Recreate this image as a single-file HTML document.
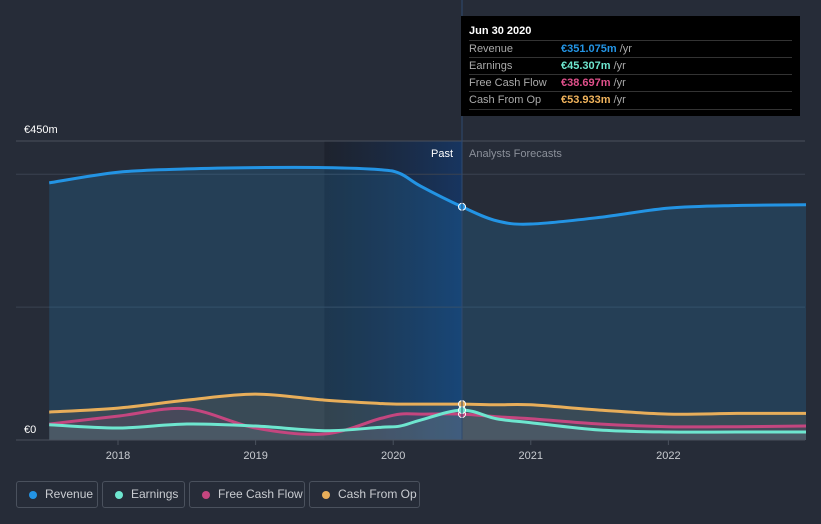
<!DOCTYPE html>
<html><head><meta charset="utf-8"><style>
body{margin:0;background:#262c38;font-family:"Liberation Sans",sans-serif;}
#wrap{position:relative;width:821px;height:524px;overflow:hidden;background:#262c38;}
.leg{position:absolute;top:481px;border:1px solid #4a515d;border-radius:3px;color:#c9ccd1;font-size:12px;line-height:25px;box-sizing:border-box;height:27px;}
.leg i{position:absolute;left:12px;top:9px;width:8px;height:8px;border-radius:50%;}
.leg span{position:absolute;left:28px;}
#tip{position:absolute;left:461px;top:16px;width:339px;height:100px;background:#000;color:#fff;font-size:11px;}
.row{position:absolute;left:8px;width:323px;height:17px;border-top:1px solid #333;}
.row .l{position:absolute;left:0;top:2px;color:#aaa;}
.row .v{position:absolute;left:92px;top:2px;font-weight:bold;}
.row .u{color:#aaa;font-weight:normal;}
</style></head><body>
<div id="wrap">
<svg id="svg" width="821" height="524" style="position:absolute;left:0;top:0"></svg>
<div id="tip">
<div style="position:absolute;left:8px;top:9px;font-weight:bold;font-size:11px">Jun 30 2020</div>
<div class="row" style="top:24px"><span class="l">Revenue</span><span class="v" style="color:#2394e4">€351.075m <span class="u">/yr</span></span></div>
<div class="row" style="top:41px"><span class="l">Earnings</span><span class="v" style="color:#6ee6cf">€45.307m <span class="u">/yr</span></span></div>
<div class="row" style="top:58px"><span class="l">Free Cash Flow</span><span class="v" style="color:#e0508b">€38.697m <span class="u">/yr</span></span></div>
<div class="row" style="top:75px;border-bottom:1px solid #333"><span class="l">Cash From Op</span><span class="v" style="color:#f0b35c">€53.933m <span class="u">/yr</span></span></div>
</div>
<div class="leg" style="left:16px;width:82px"><i style="background:#2394e4"></i><span>Revenue</span></div>
<div class="leg" style="left:102px;width:83px"><i style="background:#6ee6cf"></i><span>Earnings</span></div>
<div class="leg" style="left:189px;width:116px"><i style="background:#c4467f"></i><span>Free Cash Flow</span></div>
<div class="leg" style="left:309px;width:111px"><i style="background:#e8ae5a"></i><span>Cash From Op</span></div>
</div>
<script>
const years=[2017.5,2018,2018.5,2019,2019.5,2019.9,2020.05,2020.2,2020.5,2020.75,2021,2021.5,2022,2022.5,2023];
const revenue=[387,403,408,410,410,407,401,382,351,330,325,335,349,353,354];
const cashFromOp=[42,48,60,69,60,55,54,54,54,53,53,45,39,40,40];
const fcf=[24,36,47,18,9,32,39,39,39,35,32,24,20,20,21];
const earnings=[23,18,24,21,14,19,21,30,45,32,26,15,12,12,12];
const xTicks=[2018,2019,2020,2021,2022];
const svgEl=document.getElementById('svg');
const NS='http://www.w3.org/2000/svg';
const X=t=>118+(t-2018)*137.6;
const Y=v=>440-v*299/450;
function el(tag,attrs){const e=document.createElementNS(NS,tag);for(const k in attrs)e.setAttribute(k,attrs[k]);svgEl.appendChild(e);return e;}
function smooth(pts){let d='M'+pts[0][0]+','+pts[0][1];for(let i=1;i<pts.length;i++){const p0=pts[i-2]||pts[i-1],p1=pts[i-1],p2=pts[i],p3=pts[i+1]||p2;const c1x=p1[0]+(p2[0]-p0[0])/6,c1y=p1[1]+(p2[1]-p0[1])/6,c2x=p2[0]-(p3[0]-p1[0])/6,c2y=p2[1]-(p3[1]-p1[1])/6;d+=`C${c1x},${c1y},${c2x},${c2y},${p2[0]},${p2[1]}`;}return d;}
const defs=el('defs',{});
defs.innerHTML='<linearGradient id="pg" x1="0" x2="1"><stop offset="0" stop-color="#1a1f2a" stop-opacity="0.7"/><stop offset="1" stop-color="#173560"/></linearGradient>';
const pastRect=el('rect',{x:X(2019.5),y:141,width:X(2020.5)-X(2019.5),height:299,fill:'url(#pg)'});


[200,400].forEach(g=>{const l=el('line',{x1:16,x2:805,y1:Y(g),y2:Y(g),stroke:'#3a4250','stroke-width':1});

});
const topLine=el('line',{x1:16,x2:805,y1:141,y2:141,stroke:'#4a515d'});


const series=[[revenue,'#2394e4','revenue'],[cashFromOp,'#e8ae5a','cash-from-op'],[fcf,'#c4467f','free-cash-flow'],[earnings,'#6ee6cf','earnings']];
series.forEach(s=>{const pts=years.map((t,i)=>[X(t),Y(s[0][i])]);const d=smooth(pts);
const a=el('path',{d:d+`L${X(2023)},440L${X(2017.5)},440Z`,fill:s[1],'fill-opacity':s[2]=='revenue'?0.18:0.1});

});
series.forEach(s=>{const pts=years.map((t,i)=>[X(t),Y(s[0][i])]);
const p=el('path',{d:smooth(pts),fill:'none',stroke:s[1],'stroke-width':3});


const i=years.indexOf(2020.5);const c=el('circle',{cx:X(2020.5),cy:Y(s[0][i]),r:3.5,fill:s[1],stroke:'#fff','stroke-width':1});

});
const cur=el('line',{x1:X(2020.5),x2:X(2020.5),y1:0,y2:440,stroke:'#2f4a70'});


const ax=el('line',{x1:16,x2:805,y1:440,y2:440,stroke:'#4a515d'});


xTicks.forEach(t=>{const l=el('line',{x1:X(t),x2:X(t),y1:440,y2:445,stroke:'#4a515d'});


const tx=el('text',{x:X(t),y:459,fill:'#c9ccd1','font-size':11,'text-anchor':'middle','font-family':'Liberation Sans'});tx.textContent=t;

});
function txt(x,y,s,f,a,n){const t=el('text',{x:x,y:y,fill:f,'font-size':11,'text-anchor':a,'font-family':'Liberation Sans'});t.textContent=s;

}
txt(24,133,'€450m','#fff','start','y-label-max');
txt(24,433,'€0','#fff','start','y-label-zero');
txt(453,157,'Past','#fff','end','past-label');
txt(469,157,'Analysts Forecasts','#8b909a','start','forecast-label');
</script>
</body></html>
